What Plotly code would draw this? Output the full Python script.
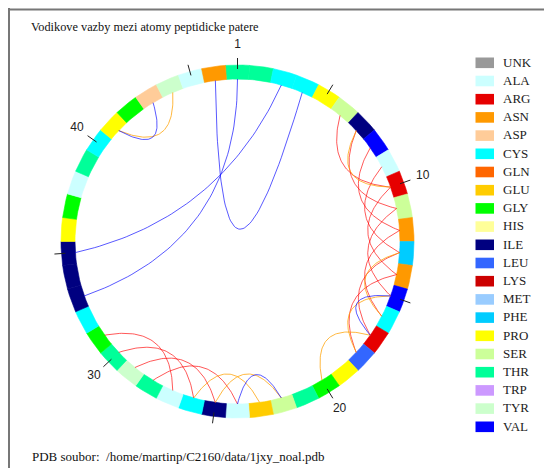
import numpy as np
import plotly.graph_objects as go

TITLE = "Vodikove vazby mezi atomy peptidicke patere"
FOOTER = "PDB soubor:\u00a0 /home/martinp/C2160/data/1jxy_noal.pdb"

SEQUENCE = ["THR", "THR", "CYS", "CYS", "PRO", "SER", "ILE", "VAL", "ALA", "ARG",
            "SER", "ASN", "PHE", "ASN", "VAL", "CYS", "ARG", "LEU", "PRO", "GLY",
            "THR", "SER", "GLU", "ALA", "ILE", "CYS", "ALA", "THR", "TYR", "THR",
            "GLY", "CYS", "ILE", "ILE", "ILE", "PRO", "GLY", "ALA", "THR", "CYS",
            "PRO", "GLY", "ASP", "TYR", "ALA", "ASN"]

LEGEND_NAMES = ["UNK", "ALA", "ARG", "ASN", "ASP", "CYS", "GLN", "GLU", "GLY", "HIS", "ILE",
                "LEU", "LYS", "MET", "PHE", "PRO", "SER", "THR", "TRP", "TYR", "VAL"]
LEGEND_COLORS = ["#999999", "#ccffff", "#e60000", "#ff9900", "#ffcc99", "#00ffff", "#ff6600",
                 "#ffcc00", "#00ff00", "#ffff99", "#000080", "#3366ff", "#cc0000", "#99ccff",
                 "#00ccff", "#ffff00", "#ccff99", "#00ff99", "#cc99ff", "#ccffcc", "#0000ff"]

TICK_RESIDUES = [1, 5, 10, 15, 20, 25, 30, 35, 40, 45]
LABEL_RESIDUES = [1, 10, 20, 30, 40]

# hydrogen bonds: residue pairs and type (a = i->i+4, t = i->i+3, o = other)
BOND_FROM = [6, 7, 8, 9, 10, 11, 12, 13, 14, 24, 25, 26, 27,
             7, 13, 15, 17, 22, 23, 41,
             15, 22, 41, 46, 1, 3]
BOND_TO = [10, 11, 12, 13, 14, 15, 16, 17, 18, 28, 29, 30, 31,
           10, 16, 18, 20, 25, 26, 44,
           17, 24, 43, 4, 33, 35]
BOND_TYPE = ["a"] * 13 + ["t"] * 7 + ["o"] * 6

# ---------------- style / geometry (screen pixel coordinates) ----------------
W, H = 552, 468
PAGE_OFF = 8  # browser body margin
CX, CY = 237.5, 241.5
R_OUT, R_IN = 176.5, 162.5
N = len(SEQUENCE)
STEP = 2 * np.pi / N
color_of = dict(zip(LEGEND_NAMES, LEGEND_COLORS))
BOND_COLORS = {"a": "rgba(255,0,0,0.65)", "t": "rgba(255,160,0,0.75)", "o": "rgba(0,0,255,0.65)"}
BEND_DEFAULT = 0.33
BEND_OVERRIDE = {(46, 4): 1.84, (1, 33): 1.0, (3, 35): 0.7}


def pt(theta, r):
    return CX + r * np.sin(theta), CY - r * np.cos(theta)


fig = go.Figure()

# ring segments
for i, res in enumerate(SEQUENCE):
    th = np.linspace(i * STEP - STEP / 2, i * STEP + STEP / 2, 12)
    xo, yo = pt(th, R_OUT)
    xi, yi = pt(th[::-1], R_IN)
    xs = np.concatenate([xo, xi, xo[:1]])
    ys = np.concatenate([yo, yi, yo[:1]])
    c = color_of[res]
    fig.add_trace(go.Scatter(x=xs, y=ys, mode="lines", fill="toself", fillcolor=c,
                             line=dict(color=c, width=0.6), hoverinfo="text",
                             text=f"{i + 1} {res}", showlegend=False))

# hydrogen bonds as quadratic Bezier curves
ctr = np.array([CX, CY])
for a, b, t in zip(BOND_FROM, BOND_TO, BOND_TYPE):
    p0 = np.array(pt((a - 1) * STEP, R_IN))
    p2 = np.array(pt((b - 1) * STEP, R_IN))
    m = (p0 + p2) / 2
    k = BEND_OVERRIDE.get((a, b), BEND_DEFAULT)
    q = m + k * (ctr - m)
    s = np.linspace(0, 1, 60)[:, None]
    curve = ((1 - s) ** 2) * p0 + 2 * (1 - s) * s * q + s ** 2 * p2
    fig.add_trace(go.Scatter(x=curve[:, 0], y=curve[:, 1], mode="lines",
                             line=dict(color=BOND_COLORS[t], width=1),
                             hoverinfo="skip", showlegend=False))

# ticks
tx, ty = [], []
for r in TICK_RESIDUES:
    th = (r - 1) * STEP
    x0, y0 = pt(th, R_OUT - 4)
    x1, y1 = pt(th, R_OUT + 7)
    tx += [x0, x1, None]
    ty += [y0, y1, None]
fig.add_trace(go.Scatter(x=tx, y=ty, mode="lines", line=dict(color="#222222", width=1),
                         hoverinfo="skip", showlegend=False))

lx, ly = zip(*[pt((r - 1) * STEP, R_OUT + 20) for r in LABEL_RESIDUES])
fig.add_trace(go.Scatter(x=lx, y=ly, mode="text", text=[str(r) for r in LABEL_RESIDUES],
                         textposition="middle center",
                         textfont=dict(family="Liberation Sans", size=12, color="#222222"),
                         hoverinfo="skip", showlegend=False))

# legend
shapes = []
LEG_Y0, LEG_DY = 62.8, 18.2
for j, (name, col) in enumerate(zip(LEGEND_NAMES, LEGEND_COLORS)):
    yc = LEG_Y0 + j * LEG_DY
    shapes.append(dict(type="rect", xref="x", yref="y", x0=475.5, x1=494, y0=yc - 5.3, y1=yc + 5.3,
                       fillcolor=col, line=dict(width=0)))
fig.add_trace(go.Scatter(x=[503] * len(LEGEND_NAMES),
                         y=[LEG_Y0 + j * LEG_DY + 0.5 for j in range(len(LEGEND_NAMES))],
                         mode="text", text=LEGEND_NAMES, textposition="middle right",
                         textfont=dict(family="Liberation Serif", size=13, color="#222222"),
                         hoverinfo="skip", showlegend=False))

# frame (top and left edges)
shapes.append(dict(type="line", xref="x", yref="y", x0=8, x1=W, y0=9.5, y1=9.5,
                   line=dict(color="#777777", width=2)))
shapes.append(dict(type="line", xref="x", yref="y", x0=9, x1=9, y0=8, y1=H,
                   line=dict(color="#777777", width=2)))

annotations = [
    dict(x=29, y=27, xref="x", yref="y", text=TITLE, showarrow=False, xanchor="left", yanchor="middle",
         font=dict(family="Liberation Serif", size=12.3, color="#111111")),
    dict(x=30, y=456, xref="x", yref="y", text=FOOTER, showarrow=False, xanchor="left", yanchor="middle",
         font=dict(family="Liberation Serif", size=13, color="#111111")),
]

fig.update_layout(
    width=W - PAGE_OFF, height=H - PAGE_OFF, margin=dict(l=0, r=0, t=0, b=0), autosize=False,
    paper_bgcolor="white", plot_bgcolor="white", showlegend=False,
    xaxis=dict(range=[PAGE_OFF, W], visible=False, fixedrange=True),
    yaxis=dict(range=[H, PAGE_OFF], visible=False, fixedrange=True),
    shapes=shapes, annotations=annotations,
)

fig.write_html("out.html")
